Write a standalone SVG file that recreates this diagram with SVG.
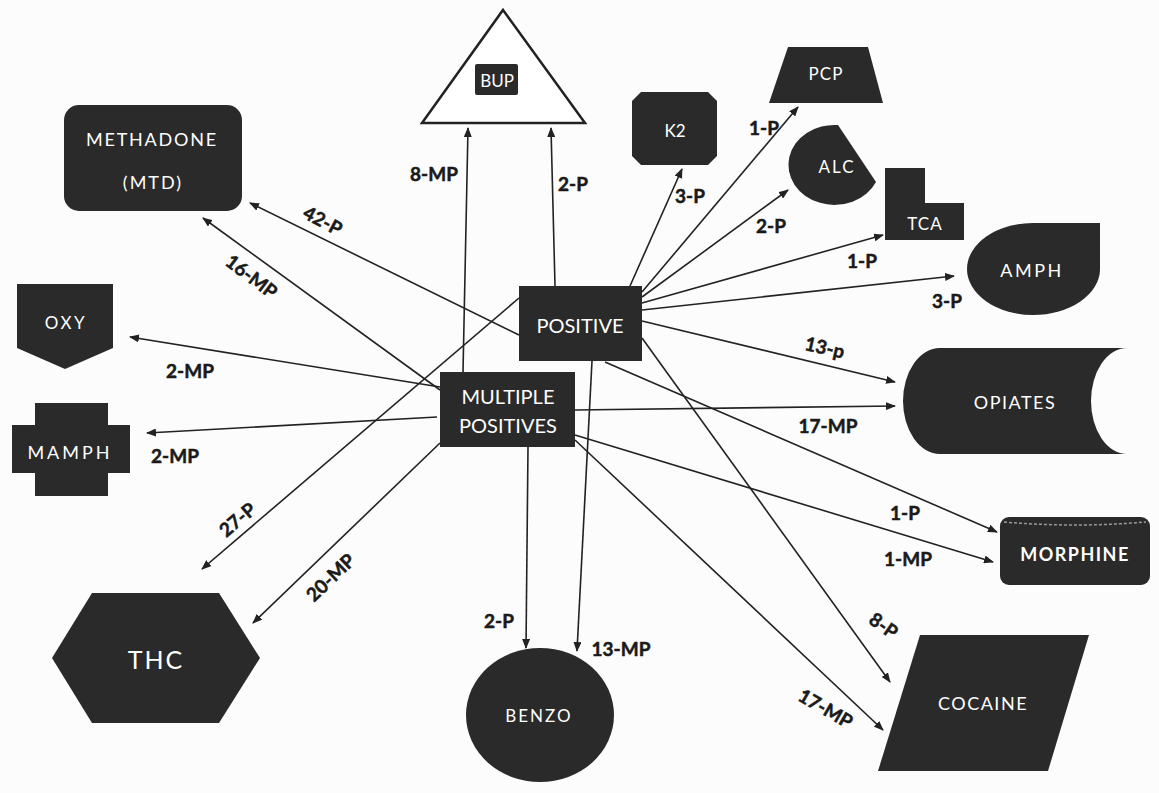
<svg xmlns="http://www.w3.org/2000/svg" width="1159" height="793" viewBox="0 0 1159 793">
<defs>
<style>
.n{fill:#2a2a2a;}
.t{fill:#ffffff;font-family:Lato,"Liberation Sans",sans-serif;font-size:18px;text-anchor:middle;dominant-baseline:central;}
.l{fill:#1a1a1a;stroke:#1a1a1a;stroke-width:0.5;font-family:Lato,"Liberation Sans",sans-serif;font-size:19px;font-weight:bold;text-anchor:middle;dominant-baseline:central;}
.c line{stroke:#222;stroke-width:1.6;marker-end:url(#ah);}
</style>
<marker id="ah" markerWidth="10" markerHeight="8" refX="9" refY="4" orient="auto" markerUnits="userSpaceOnUse">
<path d="M0,0 L10,4 L0,8 Z" fill="#222"/>
</marker>
</defs>
<rect x="0" y="0" width="1159" height="793" fill="#fcfcfc"/>

<g id="connectors" class="c">
<line x1="555" y1="286" x2="551" y2="128"/>
<line x1="463" y1="372" x2="468" y2="128"/>
<line x1="630" y1="286" x2="682" y2="169"/>
<line x1="642" y1="292" x2="798" y2="107"/>
<line x1="642" y1="297" x2="788" y2="190"/>
<line x1="642" y1="303" x2="883" y2="235"/>
<line x1="642" y1="310" x2="954" y2="276"/>
<line x1="642" y1="321" x2="895" y2="382"/>
<line x1="575" y1="410" x2="895" y2="406"/>
<line x1="605" y1="362" x2="997" y2="532"/>
<line x1="575" y1="435" x2="993" y2="562"/>
<line x1="642" y1="338" x2="890" y2="682"/>
<line x1="575" y1="440" x2="883" y2="730"/>
<line x1="528" y1="447" x2="526" y2="648"/>
<line x1="592" y1="361" x2="577" y2="651"/>
<line x1="519" y1="298" x2="202" y2="569"/>
<line x1="440" y1="443" x2="253" y2="623"/>
<line x1="519" y1="335" x2="250" y2="203"/>
<line x1="440" y1="390" x2="203" y2="218"/>
<line x1="440" y1="387" x2="130" y2="337"/>
<line x1="437" y1="417" x2="147" y2="433"/>
</g>

<g id="labels">
<text class="l" x="573" y="183">2-P</text>
<text class="l" x="434" y="173">8-MP</text>
<text class="l" x="690" y="195">3-P</text>
<text class="l" x="764" y="127">1-P</text>
<text class="l" x="771" y="225">2-P</text>
<text class="l" x="862" y="260">1-P</text>
<text class="l" x="947" y="300">3-P</text>
<text class="l" x="825" y="347" transform="rotate(13 825 347)">13-p</text>
<text class="l" x="828" y="425">17-MP</text>
<text class="l" x="905" y="512">1-P</text>
<text class="l" x="908" y="558">1-MP</text>
<text class="l" x="884" y="625" transform="rotate(35 884 625)">8-P</text>
<text class="l" x="826" y="708" transform="rotate(30 826 708)">17-MP</text>
<text class="l" x="499" y="620">2-P</text>
<text class="l" x="621" y="648">13-MP</text>
<text class="l" x="237" y="519" transform="rotate(-40 237 519)">27-P</text>
<text class="l" x="330" y="577" transform="rotate(-44 330 577)">20-MP</text>
<text class="l" x="323" y="220" transform="rotate(28 323 220)">42-P</text>
<text class="l" x="252" y="276" transform="rotate(37 252 276)">16-MP</text>
<text class="l" x="190" y="370">2-MP</text>
<text class="l" x="175" y="455">2-MP</text>
</g>

<g id="bup">
<polygon points="503,10 585,123 422,123" fill="#fff" stroke="#222" stroke-width="2.5" stroke-linejoin="miter"/>
<rect class="n" x="475" y="64" width="43" height="31" rx="2"/>
<text class="t" x="497" y="80" style="font-size:17px">BUP</text>
</g>
<g id="methadone">
<rect class="n" x="64" y="105" width="178" height="106" rx="15"/>
<text class="t" x="152" y="139" style="letter-spacing:1.8px">METHADONE</text>
<text class="t" x="153" y="182" style="letter-spacing:2px">(MTD)</text>
</g>
<g id="k2">
<polygon class="n" points="641,92 708,92 717,101 717,156 708,165 641,165 632,156 632,101"/>
<text class="t" x="675" y="130" style="font-size:17px">K2</text>
</g>
<g id="pcp">
<polygon class="n" points="788,47 868,47 883,103 769,103"/>
<text class="t" x="826" y="73" style="font-size:17px;letter-spacing:1px">PCP</text>
</g>
<g id="alc">
<path class="n" d="M838,125 A46,40 0 1 0 876,182 Z"/>
<text class="t" x="837" y="166" style="font-size:17px;letter-spacing:2px">ALC</text>
</g>
<g id="tca">
<polygon class="n" points="885,168 925,168 925,203 964,203 964,240 885,240"/>
<text class="t" x="925" y="223" style="font-size:17px;letter-spacing:1px">TCA</text>
</g>
<g id="amph">
<path class="n" d="M1033,223 L1100,223 L1100,269 A67,46 0 0 1 1033,315 A66,46 0 0 1 967,269 A66,46 0 0 1 1033,223 Z"/>
<text class="t" x="1032" y="270" style="letter-spacing:2.5px">AMPH</text>
</g>
<g id="oxy">
<polygon class="n" points="17,284 113,284 113,348 65,369 17,348"/>
<text class="t" x="66" y="322" style="font-size:17px;letter-spacing:2.5px">OXY</text>
</g>
<g id="mamph">
<polygon class="n" points="35,403 108,403 108,425 130,425 130,473 108,473 108,496 35,496 35,473 12,473 12,425 35,425"/>
<text class="t" x="70" y="452" style="letter-spacing:3px">MAMPH</text>
</g>
<g id="positive">
<rect class="n" x="519" y="286" width="123" height="75"/>
<text class="t" x="580" y="325" style="font-size:20px">POSITIVE</text>
</g>
<g id="multiple-positives">
<rect class="n" x="440" y="372" width="135" height="75"/>
<text class="t" x="508" y="396" style="font-size:20px">MULTIPLE</text>
<text class="t" x="508" y="425" style="font-size:20px">POSITIVES</text>
</g>
<g id="opiates">
<path class="n" d="M940,348 L1127,348 A36,53 0 0 0 1127,454 L940,454 A37,53 0 0 1 940,348 Z"/>
<text class="t" x="1015" y="402" style="letter-spacing:1.5px">OPIATES</text>
</g>
<g id="morphine">
<rect class="n" x="1000" y="517" width="150" height="68" rx="9"/>
<path d="M1004,522 Q1075,528 1146,522" fill="none" stroke="#9a9a9a" stroke-width="1.5" stroke-dasharray="3 2"/>
<text class="t" x="1075" y="554" style="font-weight:bold;letter-spacing:1.5px">MORPHINE</text>
</g>
<g id="thc">
<polygon class="n" points="92,593 219,593 260,658 219,723 92,723 52,658"/>
<text class="t" x="156" y="659" style="font-size:25px;letter-spacing:2px">THC</text>
</g>
<g id="benzo">
<ellipse class="n" cx="540" cy="715" rx="74" ry="67"/>
<text class="t" x="539" y="715" style="font-size:17px;letter-spacing:2px">BENZO</text>
</g>
<g id="cocaine">
<polygon class="n" points="920,635 1089,635 1048,771 878,771"/>
<text class="t" x="983" y="703" style="letter-spacing:1.5px">COCAINE</text>
</g>
</svg>
